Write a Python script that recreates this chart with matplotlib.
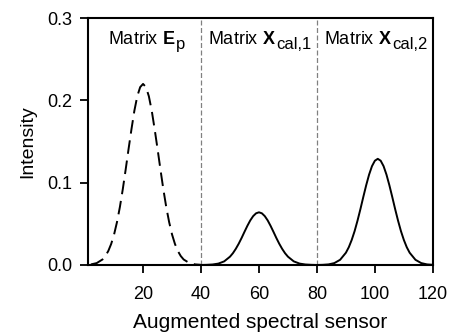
import numpy as np
import matplotlib
matplotlib.use("Agg")
import matplotlib.pyplot as plt
from matplotlib.ticker import FormatStrFormatter

# === Fonts (Arial look-alike) ===
plt.rcParams['font.family'] = ['Liberation Sans', 'DejaVu Sans']
plt.rcParams['mathtext.fontset'] = 'custom'
plt.rcParams['mathtext.rm'] = 'Liberation Sans'
plt.rcParams['mathtext.bf'] = 'Liberation Sans:bold'

# === Data ===
# dashed curve: matrix E_p
ep_x = [2, 4, 6, 7, 8, 9, 10, 11, 12, 13, 14, 15, 16, 17, 18, 19, 20,
        21, 22, 23, 24, 25, 26, 27, 28, 29, 30, 31, 32, 33, 34, 36, 38, 40]
ep_y = [0.0007, 0.0023, 0.0067, 0.0109, 0.0170, 0.0256, 0.0371, 0.0521, 0.0704,
        0.0920, 0.116, 0.141, 0.165, 0.1874, 0.205, 0.2161, 0.220,
        0.2161, 0.205, 0.1874, 0.165, 0.141, 0.116, 0.0920, 0.0704, 0.0521,
        0.0371, 0.0256, 0.0170, 0.0109, 0.0067, 0.0023, 0.0007, 0.0002]

# solid curve: matrices X_cal,1 and X_cal,2
xc_x = [40, 42, 44, 46, 48, 50, 51, 52, 53, 54, 55, 56, 57, 58, 59, 60, 61, 62, 63,
        64, 65, 66, 67, 68, 69, 70, 72, 74, 76, 78, 80, 82, 84, 86, 88, 90, 91, 92,
        93, 94, 95, 96, 97, 98, 99, 100, 101, 102, 103, 104, 105, 106, 107, 108, 109,
        110, 111, 112, 114, 116, 118, 120]
xc_y = [0.0, 0.0002, 0.0006, 0.0017, 0.0044, 0.0101, 0.0143, 0.0196, 0.0258, 0.0328,
        0.0403, 0.0476, 0.0542, 0.0594, 0.0628, 0.064, 0.0628, 0.0594, 0.0542,
        0.0476, 0.0403, 0.0328, 0.0258, 0.0196, 0.0143, 0.0101, 0.0044, 0.0017,
        0.0006, 0.0002, 0.0, 0.0002, 0.0007, 0.0023, 0.0063, 0.0149, 0.0216, 0.0304,
        0.0411, 0.0538, 0.0678, 0.0826, 0.0969, 0.1098, 0.1201, 0.1267, 0.129,
        0.1267, 0.1201, 0.1098, 0.0969, 0.0826, 0.0678, 0.0538, 0.0411,
        0.0304, 0.0216, 0.0149, 0.0063, 0.0023, 0.0007, 0.0002]

dividers = [40, 80]
label_heads = [r'Matrix $\mathbf{E}$', r'Matrix $\mathbf{X}$', r'Matrix $\mathbf{X}$']
label_subs = ['p', 'cal,1', 'cal,2']
label_x = [21, 60.2, 100.1]
xticks = [20, 40, 60, 80, 100, 120]
yticks = [0.0, 0.1, 0.2, 0.3]

# === Figure ===
fig = plt.figure(figsize=(4.49, 3.35), dpi=100)
ax = fig.add_axes([0.196, 0.209, 0.768, 0.737])

ax.plot(ep_x, ep_y, color='black', lw=1.4, dashes=(7, 3.5))
ax.plot(xc_x, xc_y, color='black', lw=1.4)

for d in dividers:
    ax.axvline(d, color='#808080', lw=0.9, dashes=(4, 2))

ax.set_xlim(1, 120)
ax.set_ylim(0, 0.3)
ax.set_xticks(xticks)
ax.set_yticks(yticks)
ax.yaxis.set_major_formatter(FormatStrFormatter('%.1f'))
ax.tick_params(direction='out', length=6, width=1.3, labelsize=13,
               top=False, right=False)
ax.tick_params(axis='x', pad=9)
ax.tick_params(axis='y', pad=5)
for sp in ax.spines.values():
    sp.set_linewidth(1.5)

ax.set_xlabel('Augmented spectral sensor', fontsize=15, labelpad=7)
ax.set_ylabel('Intensity', fontsize=14, labelpad=8)

# === Panel labels with large subscripts ===
renderer = fig.canvas.get_renderer()
for cx, head, sub in zip(label_x, label_heads, label_subs):
    t1 = ax.text(0, 0, head, fontsize=13)
    t2 = ax.text(0, 0, sub, fontsize=12)
    w1 = t1.get_window_extent(renderer).width
    w2 = t2.get_window_extent(renderer).width
    t1.remove()
    t2.remove()
    left = -(w1 + w2) / 2
    ax.annotate(head, xy=(cx, 0.2685), xytext=(left, 0), textcoords='offset pixels',
                ha='left', va='baseline', fontsize=13)
    ax.annotate(sub, xy=(cx, 0.2685), xytext=(left + w1 + 0.5, -5),
                textcoords='offset pixels', ha='left', va='baseline', fontsize=12)

fig.savefig('out.png', dpi=100)
